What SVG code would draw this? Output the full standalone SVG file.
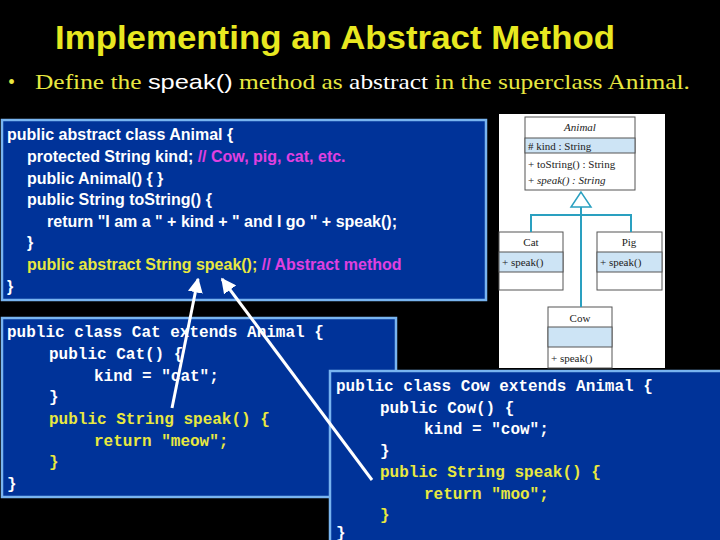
<svg xmlns="http://www.w3.org/2000/svg" width="720" height="540" viewBox="0 0 720 540">
<defs>
<style>
.box{fill:#003399;stroke:#78b4f0;stroke-width:2.5}
.sans{font-family:"Liberation Sans",Arial,sans-serif;font-weight:bold;font-size:16px;fill:#fff}
.mono{font-family:"Liberation Mono","Courier New",monospace;font-weight:bold;font-size:16px;fill:#fff}
.y{fill:#e8e840}.m{fill:#e040e0}
.uml{fill:#fff;stroke:#555;stroke-width:1}
.hl{fill:#cde4f5;stroke:#555;stroke-width:1}
.ut{font-family:"Liberation Serif",serif;font-size:11px;fill:#222}
.gen{fill:none;stroke:#2aa0c0;stroke-width:2}
</style>
<marker id="ah" viewBox="0 0 10 10" refX="9" refY="5" markerWidth="5" markerHeight="5" orient="auto"><path d="M0,0L10,5L0,10z" fill="#fff"/></marker>
</defs>
<rect width="720" height="540" fill="#000"/>
<text x="55" y="49" font-family="Liberation Sans,Arial,sans-serif" font-weight="bold" font-size="33" fill="#e8e820" textLength="560" lengthAdjust="spacingAndGlyphs">Implementing an Abstract Method</text>
<text x="8" y="89" font-family="Liberation Serif,serif" font-size="20" fill="#e8e840">•</text>
<text x="35" y="89" font-family="Liberation Serif,serif" font-size="21" fill="#e8e840" textLength="655" lengthAdjust="spacingAndGlyphs">Define the <tspan font-family="Liberation Sans,Arial,sans-serif" fill="#fff">speak()</tspan> method as <tspan fill="#fff">abstract</tspan> in the superclass Animal.</text>
<g id="animalCode">
<rect class="box" x="2" y="120" width="484" height="180"/>
<text class="sans" x="7" y="140">public abstract class Animal {</text>
<text class="sans" x="27" y="162">protected String kind; <tspan class="m">// Cow, pig, cat, etc.</tspan></text>
<text class="sans" x="27" y="184">public Animal()  {  }</text>
<text class="sans" x="27" y="205">public String toString() {</text>
<text class="sans" x="47" y="227">return "I am a " + kind + " and I go " + speak();</text>
<text class="sans" x="27" y="248">}</text>
<text class="sans y" x="27" y="270">public abstract String speak(); <tspan class="m">// Abstract method</tspan></text>
<text class="sans" x="7" y="292">}</text>
</g>
<g id="uml">
<rect x="499" y="114" width="166" height="254" fill="#fff"/>
<g id="umlAnimal">
<rect class="uml" x="525" y="117" width="110" height="73"/>
<rect class="hl" x="525" y="138" width="110" height="15"/>
<text class="ut" x="580" y="131" text-anchor="middle" font-style="italic">Animal</text>
<text class="ut" x="528" y="150"># kind : String</text>
<text class="ut" x="528" y="168">+ toString() : String</text>
<text class="ut" x="528" y="184">+ <tspan font-style="italic">speak() : String</tspan></text>
</g>
<g id="umlCat">
<rect class="uml" x="499" y="232" width="64" height="58"/>
<rect class="hl" x="499" y="252" width="64" height="20"/>
<text class="ut" x="531" y="246" text-anchor="middle">Cat</text>
<text class="ut" x="502" y="266">+ speak()</text>
</g>
<g id="umlPig">
<rect class="uml" x="597" y="232" width="65" height="58"/>
<rect class="hl" x="597" y="252" width="65" height="20"/>
<text class="ut" x="629" y="246" text-anchor="middle">Pig</text>
<text class="ut" x="600" y="266">+ speak()</text>
</g>
<g id="umlCow">
<rect class="uml" x="548" y="307" width="64" height="61"/>
<rect class="hl" x="548" y="327" width="64" height="20"/>
<text class="ut" x="580" y="322" text-anchor="middle">Cow</text>
<text class="ut" x="551" y="362">+ speak()</text>
</g>
<g id="umlEdges">
<path class="gen" d="M581,207V307M531,232V215H631V232"/>
<path d="M581,192L571,207H591Z" fill="#fff" stroke="#2aa0c0" stroke-width="1.5"/>
</g>
</g>
<g id="catCode">
<rect class="box" x="2" y="318" width="394" height="179"/>
<text class="mono" x="7" y="337">public class Cat extends Animal {</text>
<text class="mono" x="49" y="359">public Cat() {</text>
<text class="mono" x="94" y="381">kind = "cat";</text>
<text class="mono" x="49" y="402">}</text>
<text class="mono y" x="49" y="424">public String speak() {</text>
<text class="mono y" x="94" y="446">return "meow";</text>
<text class="mono y" x="49" y="467">}</text>
<text class="mono" x="7" y="489">}</text>
</g>
<g id="cowCode">
<rect class="box" x="330" y="371" width="392" height="172"/>
<text class="mono" x="336" y="391">public class Cow extends Animal {</text>
<text class="mono" x="380" y="413">public Cow() {</text>
<text class="mono" x="424" y="434">kind = "cow";</text>
<text class="mono" x="380" y="456">}</text>
<text class="mono y" x="380" y="477">public String speak() {</text>
<text class="mono y" x="424" y="499">return "moo";</text>
<text class="mono y" x="380" y="520">}</text>
<text class="mono" x="336" y="538">}</text>
</g>
<g id="connectors" stroke="#fff" stroke-width="3" marker-end="url(#ah)">
<line x1="172" y1="408" x2="198" y2="279"/>
<line x1="372" y1="480" x2="222" y2="279"/>
</g>
</svg>
